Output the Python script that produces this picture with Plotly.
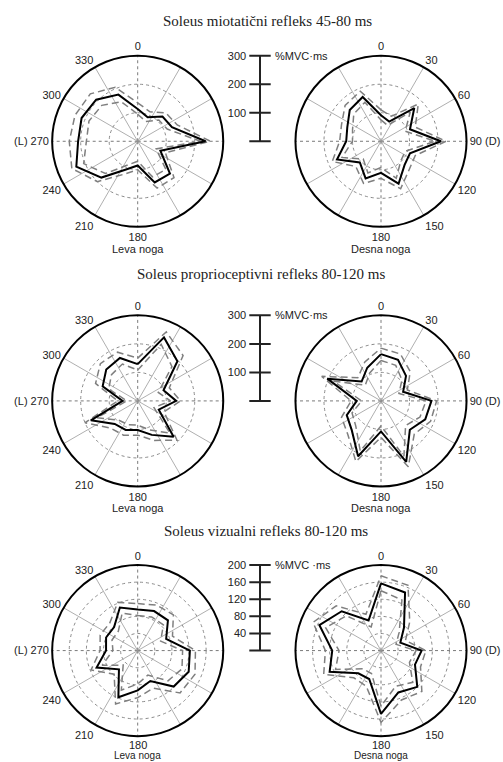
import plotly.graph_objects as go

# Perturbation directions (deg, clockwise from 0 at top)
directions = [0, 22.5, 45, 67.5, 90, 112.5, 135, 157.5,
              180, 202.5, 225, 247.5, 270, 292.5, 315, 337.5]

# Soleus stretch reflex 45-80 ms (%MVC·ms)
r1_left_mean = [113, 91, 123, 130, 238, 86, 160, 156, 85, 107, 180, 233, 209, 213, 206, 177]
r1_left_up = [135, 112, 140, 150, 255, 105, 180, 178, 100, 125, 200, 250, 240, 238, 235, 205]
r1_left_lo = [95, 75, 105, 112, 220, 70, 140, 135, 70, 90, 160, 205, 180, 185, 178, 150]
r1_right_mean = [91, 75, 165, 110, 210, 110, 117, 161, 111, 141, 105, 167, 122, 128, 155, 168]
r1_right_up = [110, 95, 185, 130, 228, 130, 140, 180, 130, 160, 125, 185, 145, 150, 178, 190]
r1_right_lo = [75, 60, 145, 92, 190, 92, 98, 140, 92, 120, 88, 148, 100, 108, 135, 148]

# Soleus proprioceptive reflex 80-120 ms
r2_left_mean = [129, 241, 197, 98, 135, 80, 178, 129, 102, 110, 114, 178, 53, 133, 156, 163]
r2_left_up = [150, 262, 225, 120, 150, 100, 195, 150, 120, 130, 135, 200, 70, 160, 185, 185]
r2_left_lo = [108, 215, 170, 78, 115, 62, 160, 110, 85, 90, 95, 155, 38, 110, 130, 140]
r2_right_mean = [164, 156, 124, 84, 177, 168, 143, 231, 107, 210, 145, 130, 85, 204, 96, 126]
r2_right_up = [185, 178, 145, 100, 195, 188, 165, 250, 128, 230, 165, 150, 105, 225, 115, 148]
r2_right_lo = [142, 135, 104, 68, 158, 148, 122, 210, 88, 190, 125, 110, 68, 180, 78, 105]

# Soleus visual reflex 80-120 ms
r3_left_mean = [96, 100, 100, 72, 122, 129, 119, 77, 93, 118, 62, 104, 74, 80, 78, 109]
r3_left_up = [110, 115, 118, 88, 135, 145, 140, 95, 110, 135, 78, 118, 88, 95, 92, 122]
r3_left_lo = [82, 85, 85, 58, 105, 112, 100, 62, 78, 100, 48, 90, 58, 65, 64, 95]
r3_right_mean = [157, 147, 76, 49, 95, 86, 120, 106, 148, 72, 75, 130, 114, 156, 130, 76]
r3_right_up = [175, 165, 95, 62, 105, 100, 135, 125, 168, 90, 90, 145, 130, 172, 148, 92]
r3_right_lo = [140, 128, 60, 38, 82, 72, 105, 90, 130, 58, 60, 115, 98, 140, 115, 60]

titles = ["Soleus miotatični refleks 45-80 ms",
          "Soleus proprioceptivni refleks 80-120 ms",
          "Soleus vizualni refleks 80-120 ms"]
scale_max = [300, 300, 200]
scale_ticks = [[100, 200, 300], [100, 200, 300], [40, 80, 120, 160, 200]]
unit_labels = ["%MVC·ms", "%MVC·ms", "%MVC ·ms"]

angle_ticks = [0, 30, 60, 90, 120, 150, 180, 210, 240, 270, 300, 330]
left_ticktext = ["0", "", "", "", "", "", "180", "210", "240", "(L) 270", "300", "330"]
right_ticktext = ["0", "30", "60", "90 (D)", "120", "150", "180", "", "", "", "", ""]

rows = [
    (r1_left_mean, r1_left_up, r1_left_lo, r1_right_mean, r1_right_up, r1_right_lo),
    (r2_left_mean, r2_left_up, r2_left_lo, r2_right_mean, r2_right_up, r2_right_lo),
    (r3_left_mean, r3_left_up, r3_left_lo, r3_right_mean, r3_right_up, r3_right_lo),
]

W, H = 503, 762
R = 86
LX, RX = 137.7, 381.0
ROW_CY = [138, 399, 650]
BAR_X = 260
TICK_HALF = 10.7

SANS = "Liberation Sans, Arial, sans-serif"
SERIF = "Liberation Serif, Times New Roman, serif"
TEXT_COLOR = "#222"


def xdom(a, b):
    return [a / W, b / W]


def ydom(top, bottom):
    return [1 - bottom / H, 1 - top / H]


def closed(vals):
    return list(vals) + [vals[0]]


def paper_text(text, x_px, y_px, size=11, family=SANS, **kw):
    d = dict(text=text, x=x_px / W, y=1 - y_px / H, xref="paper", yref="paper",
             showarrow=False, xanchor="center", yanchor="middle",
             font=dict(family=family, size=size, color=TEXT_COLOR))
    d.update(kw)
    return d


fig = go.Figure()
layout = dict(
    width=W, height=H, margin=dict(l=0, r=0, t=0, b=0),
    paper_bgcolor="white", plot_bgcolor="white", showlegend=False,
    font=dict(family=SANS, size=11, color=TEXT_COLOR),
)
annotations = []

theta_closed = closed(directions)
last_row = len(ROW_CY) - 1
pid = 0
for row, cy in enumerate(ROW_CY):
    smax = scale_max[row]
    grid_r = [t for t in scale_ticks[row] if t < smax]
    data = rows[row]
    for side, (cx, ticktext) in enumerate([(LX, left_ticktext), (RX, right_ticktext)]):
        pid += 1
        name = "polar" if pid == 1 else f"polar{pid}"
        if row == last_row:
            # bottom row: the 180 label is set as a separate text below
            ticktext = ["" if v == 180 else s for v, s in zip(angle_ticks, ticktext)]
        layout[name] = dict(
            domain=dict(x=xdom(cx - R, cx + R), y=ydom(cy - R, cy + R)),
            bgcolor="white",
            angularaxis=dict(
                direction="clockwise", rotation=90,
                tickmode="array", tickvals=angle_ticks, ticktext=ticktext,
                showgrid=False, showline=True, linecolor="black", linewidth=2,
                ticks="", tickfont=dict(family=SANS, size=11, color=TEXT_COLOR),
            ),
            radialaxis=dict(
                range=[0, smax], tickmode="array", tickvals=grid_r,
                showticklabels=False, ticks="", showline=False,
                gridcolor="#8a8a8a", griddash="dot", gridwidth=1,
            ),
        )
        # spokes: diagonals thin solid, cardinal directions dotted
        for a in angle_ticks:
            cardinal = a % 90 == 0
            fig.add_trace(go.Scatterpolar(
                r=[0, smax], theta=[a, a], mode="lines", subplot=name,
                line=dict(color="#7a7a7a" if cardinal else "#9a9a9a",
                          width=1 if cardinal else 0.8,
                          dash="dot" if cardinal else "solid"),
                hoverinfo="skip",
            ))
        mean, up, lo = data[side * 3: side * 3 + 3]
        for vals in (up, lo):
            fig.add_trace(go.Scatterpolar(
                r=closed(vals), theta=theta_closed, mode="lines", subplot=name,
                line=dict(color="#7f7f7f", width=1.5, dash="7px,4px"),
            ))
        fig.add_trace(go.Scatterpolar(
            r=closed(mean), theta=theta_closed, mode="lines", subplot=name,
            line=dict(color="black", width=2),
        ))
        leg = "Leva noga" if side == 0 else "Desna noga"
        if row == last_row:
            annotations.append(paper_text("180", cx, 744.5))
            annotations.append(paper_text(leg, cx, H, size=10,
                                          yanchor="bottom", yshift=-1))
        else:
            annotations.append(paper_text(leg, cx, cy + R + 22))

    # scale bar between the two plots
    ax = "" if row == 0 else str(row + 1)
    pad_px = 2
    pad_u = pad_px * smax / R
    layout[f"xaxis{ax}"] = dict(
        domain=xdom(BAR_X - TICK_HALF * 1.2, BAR_X + TICK_HALF * 1.2),
        range=[-1.2, 1.2], visible=False, anchor=f"y{ax}", fixedrange=True,
    )
    layout[f"yaxis{ax}"] = dict(
        domain=ydom(cy - R - pad_px, cy + pad_px),
        range=[-pad_u, smax + pad_u], anchor=f"x{ax}",
        tickmode="array", tickvals=scale_ticks[row],
        ticktext=[str(t) for t in scale_ticks[row]],
        showgrid=False, zeroline=False, showline=False, ticks="",
        tickfont=dict(family=SANS, size=11, color=TEXT_COLOR),
        ticklabelstandoff=0, fixedrange=True,
    )
    bar_x, bar_y = [0, 0, None], [0, smax, None]
    for t in [0] + scale_ticks[row]:
        bar_x += [-1, 1, None]
        bar_y += [t, t, None]
    fig.add_trace(go.Scatter(
        x=bar_x, y=bar_y, mode="lines", xaxis=f"x{ax}", yaxis=f"y{ax}",
        line=dict(color=TEXT_COLOR, width=2), hoverinfo="skip",
    ))
    annotations.append(dict(
        text=unit_labels[row], x=1, y=smax, xref=f"x{ax}", yref=f"y{ax}",
        showarrow=False, xanchor="left", yanchor="middle", xshift=2,
        font=dict(family=SANS, size=11, color=TEXT_COLOR),
    ))

title_pos = [(267.5, 17), (261, 271), (266, 530)]
for t, (tx, ty) in zip(titles, title_pos):
    annotations.append(paper_text(t, tx, ty, size=15, family=SERIF))

layout["annotations"] = annotations
fig.update_layout(**layout)
fig.write_html("out.html")
